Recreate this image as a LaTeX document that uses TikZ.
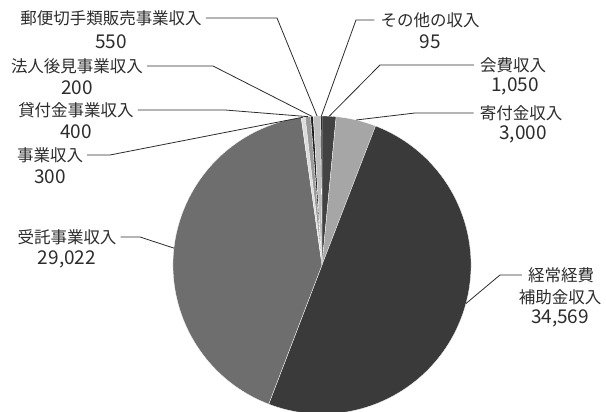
\documentclass[tikz,border=0pt]{standalone}
\usepackage{fontspec}
\setmainfont{Noto Sans CJK JP}
\usetikzlibrary{positioning}

\definecolor{inkgray}{HTML}{2C2C2C}
\definecolor{keijocol}{HTML}{3A3A3A}
\definecolor{jutakucol}{HTML}{6E6E6E}
\definecolor{kifucol}{HTML}{A6A6A6}
\definecolor{kaihicol}{HTML}{424242}
\definecolor{jigyocol}{HTML}{DCDCDC}
\definecolor{kashicol}{HTML}{9A9A9A}
\definecolor{houjincol}{HTML}{1E1E1E}
\definecolor{yubincol}{HTML}{BEBEBE}
\definecolor{sonotacol}{HTML}{111111}

\tikzset{
  lbl/.style={inner sep=0pt, text=inkgray, font=\fontsize{16.5}{18}\selectfont},
  val/.style={lbl, font=\fontsize{19}{20}\selectfont},
  leader/.style={draw=inkgray, line width=0.8pt},
  slice/.style={draw=white, line width=0.3pt}
}

\begin{document}
\begin{tikzpicture}[x=1pt,y=1pt]
    \useasboundingbox (0,0) rectangle (606,412);
    \clip (0,0) rectangle (606,412);
    \coordinate (c) at (322,147);
    \def\rad{149}

    % pie, clockwise from the top (values in thousands)
    \def\startang{90}
    \foreach \val/\col in {1.050/kaihicol, 3.000/kifucol, 34.569/keijocol,
        29.022/jutakucol, 0.300/jigyocol, 0.400/kashicol, 0.200/houjincol,
        0.550/yubincol, 0.095/sonotacol}{
        \pgfmathsetmacro\endang{\startang-\val/0.192183}
        \fill[\col, slice] (c) -- ++(\startang:\rad)
            arc[start angle=\startang, end angle=\endang, radius=\rad] -- cycle;
        \global\let\startang\endang
    }

    % points on the rim
    \coordinate (p-kaihi)  at ([shift={(87.2:\rad)}]c);
    \coordinate (p-kifu)   at ([shift={(76.7:\rad)}]c);
    \coordinate (p-keijo)  at ([shift={(-15:\rad)}]c);
    \coordinate (p-jutaku) at ([shift={(173.5:\rad)}]c);
    \coordinate (p-jigyo)  at ([shift={(97.3:\rad)}]c);
    \coordinate (p-kashi)  at ([shift={(95.4:\rad)}]c);
    \coordinate (p-houjin) at ([shift={(93.9:\rad)}]c);
    \coordinate (p-yubin)  at ([shift={(91.9:\rad)}]c);
    \coordinate (p-sonota) at ([shift={(90.25:\rad)}]c);

    % labels
    \node[lbl] (yubin)   at (111,394) {郵便切手類販売事業収入};
    \node[val] (yubin-v) at (111,370) {550};
    \node[lbl] (houjin)   at (77,346) {法人後見事業収入};
    \node[val] (houjin-v) at (77,324) {200};
    \node[lbl] (kashi)   at (76,302) {貸付金事業収入};
    \node[val] (kashi-v) at (76,280) {400};
    \node[lbl] (jigyo)   at (50,257) {事業収入};
    \node[val] (jigyo-v) at (50,235) {300};
    \node[lbl] (jutaku)   at (67,175) {受託事業収入};
    \node[val] (jutaku-v) at (67,153) {29,022};
    \node[lbl] (sonota)   at (430,392) {その他の収入};
    \node[val] (sonota-v) at (430,370) {95};
    \node[lbl] (kaihi)   at (513,347) {会費収入};
    \node[val] (kaihi-v) at (515,326) {1,050};
    \node[lbl] (kifu)   at (521,299) {寄付金収入};
    \node[val] (kifu-v) at (523,278) {3,000};
    \node[lbl] (keijo)   at (561,137) {経常経費};
    \node[lbl] (keijo-2) at (560,115) {補助金収入};
    \node[val] (keijo-v) at (560,94) {34,569};

    % leaders
    \draw[leader] ([xshift=4pt]yubin.east) -- (277,394) -- (p-yubin);
    \draw[leader] ([xshift=4pt]houjin.east) -- (213,346) -- (p-houjin);
    \draw[leader] ([xshift=4pt]kashi.east) -- (225,302) -- (p-kashi);
    \draw[leader] ([xshift=4pt]jigyo.east) -- (110,257) -- (p-jigyo);
    \draw[leader] ([xshift=4pt]jutaku.east) -- (140,175) -- (p-jutaku);
    \draw[leader] ([xshift=-6pt]sonota.west) -- (356,392) -- (p-sonota);
    \draw[leader] ([xshift=-6pt]kaihi.west) -- (380,347) -- (p-kaihi);
    \draw[leader] ([xshift=-6pt]kifu.west) -- (415,299) -- (p-kifu);
    \draw[leader] ([xshift=-6pt]keijo.west) -- (500,137) -- (p-keijo);
\end{tikzpicture}
\end{document}
